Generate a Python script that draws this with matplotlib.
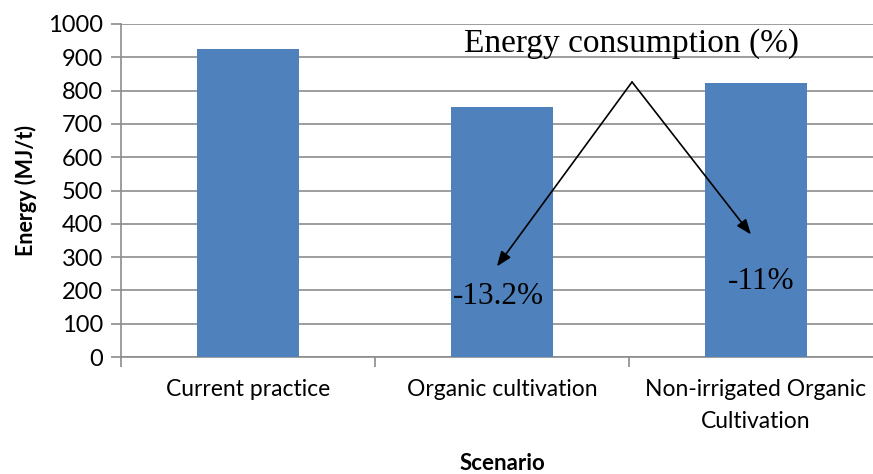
import matplotlib.pyplot as plt

# ============== data ==============
scenarios = ["Current practice", "Organic cultivation", "Non-irrigated Organic\nCultivation"]
energy = [925, 750, 823]
change_labels = ["-13.2%", "-11%"]
# arrow tip / label positions (data coords) for the two change annotations
arrow_tips = [(0.98, 272), (1.98, 368)]
label_pos = [(0.985, 183), (2.02, 228)]
arrow_origin = (1.512, 826)

bar_color = "#4F81BD"
grid_color = "#8C8C8C"
sans = ["Lato", "DejaVu Sans"]
serif = ["Liberation Serif", "DejaVu Serif"]

plt.rcParams['font.family'] = sans

fig = plt.figure(figsize=(8.73, 4.74), dpi=100)
ax = fig.add_axes([121 / 873, 1 - 357 / 474, 762 / 873, 333 / 474])

x = list(range(len(scenarios)))
ax.bar(x, energy, width=0.4, color=bar_color, zorder=3)

ax.set_xlim(-0.5, 2.5)
ax.set_ylim(0, 1000)
ax.set_yticks(range(0, 1001, 100))
ax.grid(axis='y', color=grid_color, linewidth=1.2, zorder=0)

# category labels centred, tick marks on the boundaries
ax.set_xticks(x)
ax.set_xticklabels(scenarios, fontsize=16.5, linespacing=1.65)
ax.tick_params(axis='x', length=0, pad=16)
ax.set_xticks([-0.5, 0.5, 1.5, 2.5], minor=True)
ax.tick_params(axis='x', which='minor', length=7, color=grid_color, width=1.2)
ax.tick_params(axis='y', length=7, color=grid_color, width=1.2, labelsize=17, pad=6)

for side in ['top', 'right']:
    ax.spines[side].set_visible(False)
for side in ['left', 'bottom']:
    ax.spines[side].set_color(grid_color)
    ax.spines[side].set_linewidth(1.2)

ax.set_ylabel("Energy (MJ/t)", fontsize=15.5, fontweight='bold', labelpad=8)
# x label placed by hand, the tall two-line tick label would push it off the figure
fig.text(502 / 873, 1 - 463 / 474, "Scenario", fontsize=16, fontweight='bold',
         ha='center', va='center')

# annotations
ax.text(1.51, 940, "Energy consumption (%)", family=serif, fontsize=24,
        ha='center', va='center', zorder=5)
for tip in arrow_tips:
    ax.annotate("", xy=tip, xytext=arrow_origin,
                arrowprops=dict(arrowstyle='-|>,head_length=0.9,head_width=0.35',
                                color='black', lw=1.2, shrinkA=0, shrinkB=0),
                zorder=5)
for (lx, ly), txt in zip(label_pos, change_labels):
    ax.text(lx, ly, txt, family=serif, fontsize=22.5, ha='center', va='center', zorder=5)

fig.savefig("out.png", dpi=100)
